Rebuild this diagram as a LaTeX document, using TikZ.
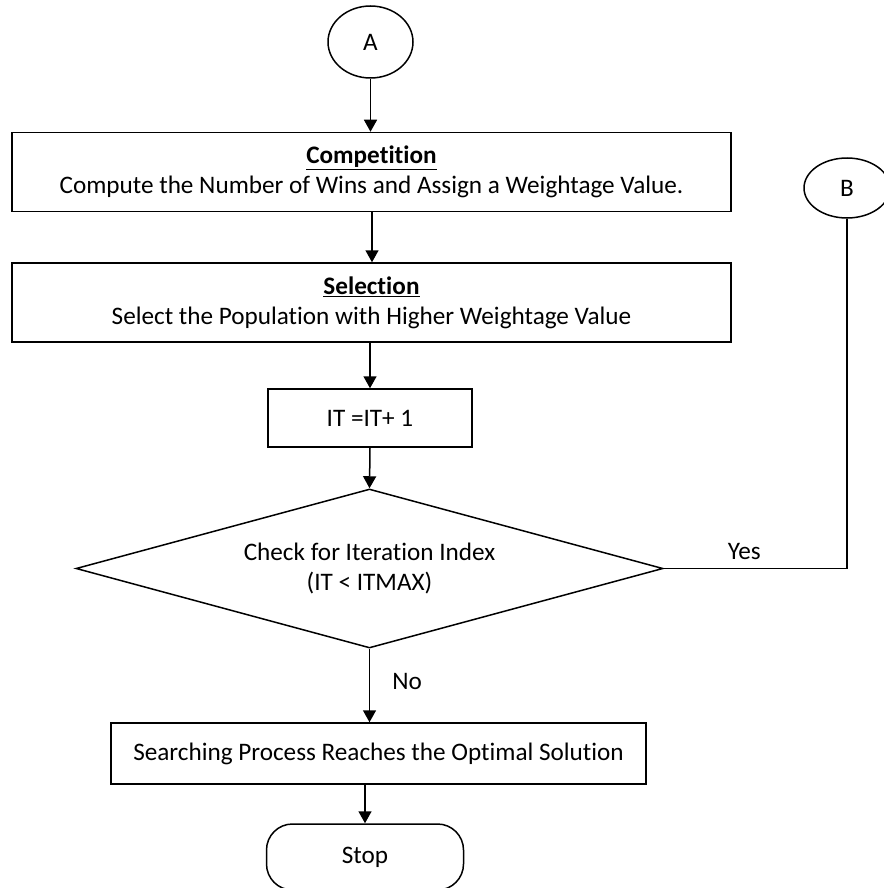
\documentclass[tikz,border=0pt]{standalone}
\usepackage{fontspec}
\setmainfont[Ligatures={NoCommon}]{Carlito}
\usetikzlibrary{shapes.geometric,arrows.meta}
\tikzset{
  base/.style={draw=black, line width=1.5pt, font=\fontsize{25.2}{30}\selectfont, text=black, align=center, inner sep=0pt},
  procbox/.style={base, rectangle},
  termoval/.style={base, ellipse},
  decbox/.style={base, diamond, aspect=3.7},
  stopbox/.style={base, rectangle, rounded corners=26pt},
  arr/.style={line width=1.5pt, -{Triangle[length=12pt,width=13pt]}},
  plain/.style={line width=1.5pt},
  lbl/.style={font=\fontsize{25.2}{30}\selectfont, text=black, inner sep=0pt}
}
\begin{document}
\begin{tikzpicture}[x=1pt,y=-1pt]
\useasboundingbox (0,0) rectangle (883,888);
\node[termoval, minimum width=85pt, minimum height=72pt] (A) at (370.5,42) {A};
\node[procbox, minimum width=719pt, minimum height=79pt] (comp) at (371.5,172)
  {\underline{\textbf{Competition}}\\Compute the Number of Wins and Assign a Weightage Value.};
\node[termoval, minimum width=86pt, minimum height=60pt] (B) at (847,188) {B};
\node[procbox, minimum width=719pt, minimum height=79pt] (sel) at (371.5,302.5)
  {\underline{\textbf{Selection}}\\Select the Population with Higher Weightage Value};
\node[procbox, minimum width=204pt, minimum height=58pt] (it) at (370,418) {IT =IT+ 1};
\node[decbox, minimum width=587pt, minimum height=159pt] (dec) at (369.5,568.5)
  {Check for Iteration Index\\(IT < ITMAX)};
\node[procbox, minimum width=535pt, minimum height=61pt] (search) at (378.5,753.5)
  {Searching Process Reaches the Optimal Solution};
\node[stopbox, minimum width=197pt, minimum height=66pt] (stop) at (365,857) {Stop};
\draw[arr] (A.south) -- (A.south |- comp.north);
\draw[arr] (comp.south -| A.south) ++(1.5,0) coordinate (c1) -- (c1 |- sel.north);
\draw[arr] (sel.south -| it.north) -- (it.north);
\draw[arr] (it.south) -- (dec.north);
\draw[arr] (dec.south) -- (dec.south |- search.north) node[lbl, pos=0.45, right=22pt] (no) {No};
\draw[arr] (search.south -| stop.north) -- (stop.north);
\draw[plain] (B.south) |- (dec.east) node[lbl, pos=0.78, above=8pt] (yes) {Yes};
\end{tikzpicture}
\end{document}
